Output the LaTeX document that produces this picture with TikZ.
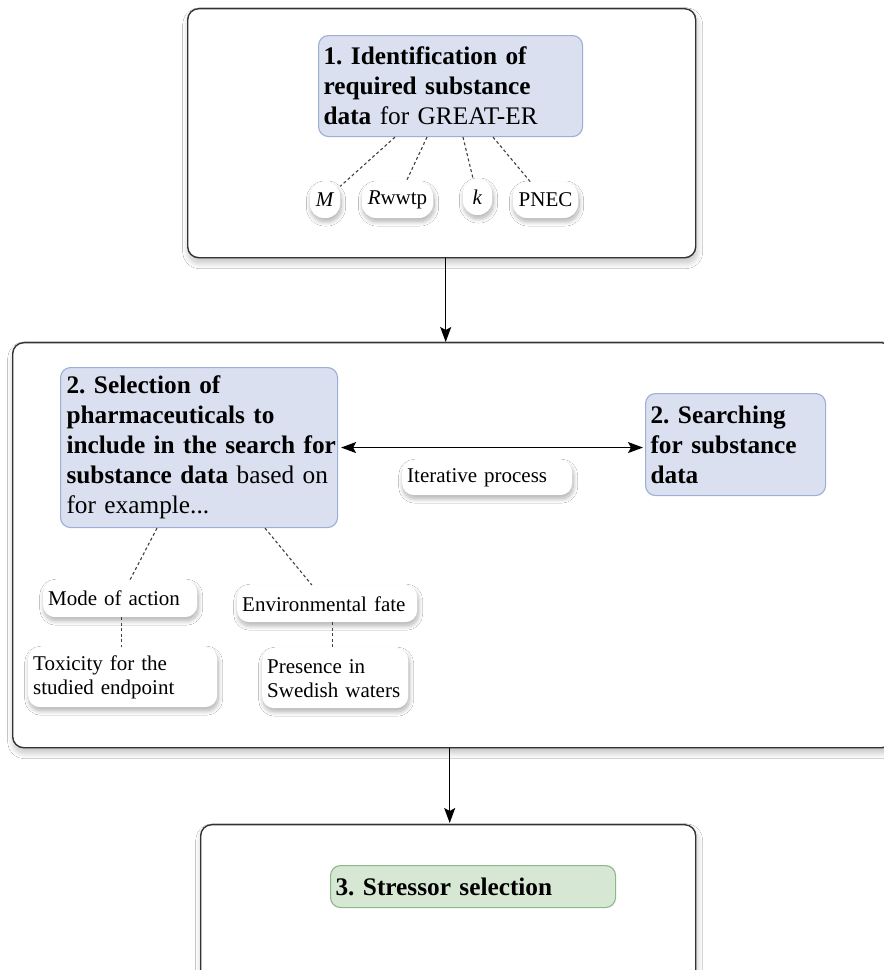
\documentclass[tikz,border=0pt]{standalone}
\usepackage{fontspec}
\setmainfont{Liberation Serif}
\usetikzlibrary{arrows.meta,calc,shadows.blur}

\definecolor{stepfill}{HTML}{DAE0EF}
\definecolor{stepline}{HTML}{9CAFD6}
\definecolor{endfill}{HTML}{D6E7D3}
\definecolor{endline}{HTML}{8DB889}
\newcommand\headfont{\fontsize{25.3}{30}\selectfont\frenchspacing}
\newcommand\notefont{\fontsize{21}{24}\selectfont\frenchspacing}

\begin{document}
\begin{tikzpicture}[x=1pt,y=-1pt,
  frame/.style={draw=black!80, line width=1.4pt, rounded corners=11pt, fill=white,
    anchor=north west, inner sep=0pt,
    blur shadow={shadow xshift=1pt, shadow yshift=-5pt, shadow blur radius=6pt,
      shadow blur steps=16, shadow opacity=25}},
  stepbox/.style={draw=stepline, fill=stepfill, line width=1.1pt, rounded corners=10pt,
    anchor=north west, align=left, inner xsep=5pt, inner ysep=0pt, font=\headfont},
  endbox/.style={stepbox, draw=endline, fill=endfill},
  soft/.style={blur shadow={shadow xshift=1pt, shadow yshift=-3.5pt, shadow blur radius=4.5pt,
      shadow blur steps=14, shadow opacity=32}},
  note/.style={fill=white, rounded corners=12pt, anchor=north west, align=left,
    inner xsep=5pt, inner ysep=0pt, font=\notefont, soft},
  param/.style={fill=white, rounded corners=14pt, inner sep=0pt, font=\notefont,
    minimum height=36pt, soft},
  arr/.style={draw=black, line width=1.3pt, -{Stealth[length=15pt,width=11pt,inset=3pt]}},
  biarr/.style={draw=black, line width=1.3pt,
    {Stealth[length=15pt,width=11pt,inset=3pt]}-{Stealth[length=15pt,width=11pt,inset=3pt]}},
  link/.style={draw=black!75, line width=1.1pt, dash pattern=on 3pt off 2.5pt}
]
\useasboundingbox (0,0) rectangle (884,970);
\fill[white] (0,0) rectangle (884,970);
\clip (0,0) rectangle (884,970);

% the three stage frames
\node[frame, minimum width=508pt, minimum height=249pt] (box1) at (187,8) {};
\node[frame, minimum width=880pt, minimum height=405pt] (box2) at (12,342) {};
\node[frame, minimum width=495pt, minimum height=160pt] (box3) at (200,824) {};

% stage 1
\node[stepbox, text width=254pt, minimum height=101pt] (ident) at (318,35)
  {\mbox{\textbf{1. Identification of}}\\\mbox{\textbf{required substance}}\\\mbox{\textbf{data} for GREAT-ER}};
\node[param, minimum width=30pt] (pM) at (325,200) {\textit{M}};
\node[param, minimum width=71pt] (pR) at (397.5,200) {\textit{R}wwtp};
\node[param, minimum width=29pt] (pk) at (477.5,197) {\textit{k}};
\node[param, minimum width=65pt] (pP) at (545.5,200) {PNEC};
\draw[link] ($(ident.south west)+(77,0)$) -- (pM);
\draw[link] ($(ident.south west)+(109,0)$) -- (pR);
\draw[link] ($(ident.south west)+(145,0)$) -- (pk);
\draw[link] ($(ident.south west)+(175,0)$) -- (pP);

% stage 2
\node[stepbox, inner xsep=6pt, text width=265pt, minimum height=160pt] (sel) at (60,367)
  {\mbox{\textbf{2. Selection of}}\\\mbox{\textbf{pharmaceuticals to}}\\\mbox{\textbf{include in the search for}}\\\mbox{\textbf{substance data} based on}\\\mbox{for example...}};
\node[stepbox, text width=170pt, minimum height=102pt] (srch) at (645,393)
  {\mbox{\textbf{2. Searching}}\\\mbox{\textbf{for substance}}\\\mbox{\textbf{data}}};
\node[note, text width=160pt, minimum height=35pt] (iter) at (402,460) {Iterative process};
\draw[biarr] ($(sel.east)+(3,0)$) -- ($(sel.east -| srch.west)+(-2,0)$);

\node[note, text width=144pt, minimum height=37pt] (mode) at (43,580) {Mode of action};
\node[note, text width=170pt, minimum height=37pt] (env) at (237,585) {Environmental fate};
\node[note, text width=179pt, minimum height=60pt] (tox) at (28,647) {Toxicity for the\\studied endpoint};
\node[note, text width=136pt, minimum height=60pt] (pres) at (262,648) {Presence in\\Swedish waters};
\draw[link] ($(sel.south west)+(97,0)$) -- (mode);
\draw[link] ($(sel.south west)+(205,0)$) -- (env);
\draw[link] ($(mode.south)+(1,0)$) -- ($(mode.south |- tox.north)+(1,0)$);
\draw[link] ($(env.south)+(5,0)$) -- ($(env.south |- pres.north)+(5,0)$);

% stage 3
\node[endbox, text width=275pt, minimum height=42pt] (stress) at (330,865)
  {\mbox{\textbf{3. Stressor selection}}};

% flow between stages
\draw[arr] ($(box1.south)+(4,0)$) -- ($(box1.south |- box2.north)+(4,0)$);
\draw[arr] ($(box2.south)+(-3,0)$) -- ($(box2.south |- box3.north)+(-3,-1)$);
\end{tikzpicture}
\end{document}
